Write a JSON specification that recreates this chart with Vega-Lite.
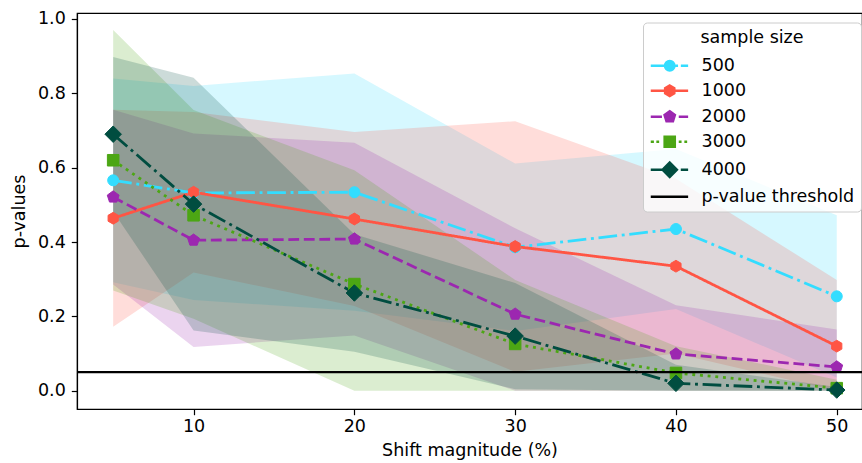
{
  "$schema": "https://vega.github.io/schema/vega-lite/v6.json",
  "width": 785,
  "height": 396,
  "autosize": "none",
  "padding": {"left": 77, "top": 13, "right": 0, "bottom": 54},
  "background": "white",
  "config": {
    "font": "DejaVu Sans",
    "view": {"stroke": "black", "strokeWidth": 1.2},
    "axis": {
      "grid": false,
      "domainColor": "black",
      "domainWidth": 1.2,
      "tickColor": "black",
      "tickWidth": 1.2,
      "tickSize": 5.7,
      "labelFont": "DejaVu Sans",
      "labelFontSize": 17.5,
      "labelColor": "black",
      "titleFont": "DejaVu Sans",
      "titleFontSize": 17.5,
      "titleFontWeight": "normal",
      "titleColor": "black"
    }
  },
  "datasets": {
    "series": [
      {"size": "500", "shift": 5, "p": 0.566, "lo": 0.292, "hi": 0.84},
      {"size": "500", "shift": 10, "p": 0.532, "lo": 0.244, "hi": 0.82},
      {"size": "500", "shift": 20, "p": 0.534, "lo": 0.215, "hi": 0.853},
      {"size": "500", "shift": 30, "p": 0.386, "lo": 0.161, "hi": 0.611},
      {"size": "500", "shift": 40, "p": 0.435, "lo": 0.22, "hi": 0.65},
      {"size": "500", "shift": 50, "p": 0.254, "lo": 0.036, "hi": 0.472},
      {"size": "1000", "shift": 5, "p": 0.464, "lo": 0.172, "hi": 0.756},
      {"size": "1000", "shift": 10, "p": 0.534, "lo": 0.318, "hi": 0.75},
      {"size": "1000", "shift": 20, "p": 0.462, "lo": 0.228, "hi": 0.696},
      {"size": "1000", "shift": 30, "p": 0.388, "lo": 0.051, "hi": 0.725},
      {"size": "1000", "shift": 40, "p": 0.335, "lo": 0.1, "hi": 0.57},
      {"size": "1000", "shift": 50, "p": 0.12, "lo": 0.0, "hi": 0.298},
      {"size": "2000", "shift": 5, "p": 0.521, "lo": 0.286, "hi": 0.756},
      {"size": "2000", "shift": 10, "p": 0.405, "lo": 0.118, "hi": 0.692},
      {"size": "2000", "shift": 20, "p": 0.408, "lo": 0.149, "hi": 0.667},
      {"size": "2000", "shift": 30, "p": 0.206, "lo": 0.0, "hi": 0.437},
      {"size": "2000", "shift": 40, "p": 0.099, "lo": 0.0, "hi": 0.23},
      {"size": "2000", "shift": 50, "p": 0.064, "lo": 0.0, "hi": 0.165},
      {"size": "3000", "shift": 5, "p": 0.62, "lo": 0.27, "hi": 0.97},
      {"size": "3000", "shift": 10, "p": 0.472, "lo": 0.194, "hi": 0.755},
      {"size": "3000", "shift": 20, "p": 0.287, "lo": 0.0, "hi": 0.593},
      {"size": "3000", "shift": 30, "p": 0.126, "lo": 0.0, "hi": 0.298},
      {"size": "3000", "shift": 40, "p": 0.048, "lo": 0.0, "hi": 0.12},
      {"size": "3000", "shift": 50, "p": 0.007, "lo": 0.0, "hi": 0.03},
      {"size": "4000", "shift": 5, "p": 0.69, "lo": 0.482, "hi": 0.898},
      {"size": "4000", "shift": 10, "p": 0.502, "lo": 0.162, "hi": 0.842},
      {"size": "4000", "shift": 20, "p": 0.263, "lo": 0.105, "hi": 0.421},
      {"size": "4000", "shift": 30, "p": 0.147, "lo": 0.004, "hi": 0.29},
      {"size": "4000", "shift": 40, "p": 0.02, "lo": 0.0, "hi": 0.07},
      {"size": "4000", "shift": 50, "p": 0.002, "lo": 0.0, "hi": 0.01}
    ],
    "threshold": [{"label": "p-value threshold", "p": 0.05}]
  },
  "data": {"name": "series"},
  "resolve": {"scale": {"shape": "independent", "fill": "independent", "stroke": "independent"}},
  "layer": [
    {
      "mark": {"type": "area", "fillOpacity": 0.2},
      "encoding": {
        "x": {
          "field": "shift", "type": "quantitative",
          "scale": {"domain": [2.75, 51.57], "nice": false, "zero": false},
          "axis": {"values": [10, 20, 30, 40, 50], "title": "Shift magnitude (%)", "labelPadding": 3, "titlePadding": 6}
        },
        "y": {
          "field": "lo", "type": "quantitative",
          "scale": {"domain": [-0.049, 1.016], "nice": false, "zero": false},
          "axis": {"values": [0, 0.2, 0.4, 0.6, 0.8, 1.0], "format": ".1f", "title": "p-values", "labelPadding": 6, "titlePadding": 9}
        },
        "y2": {"field": "hi"},
        "color": {
          "field": "size", "type": "nominal", "legend": null,
          "scale": {"domain": ["500", "1000", "2000", "3000", "4000"], "range": ["#33DDFF", "#FF5544", "#9C27B0", "#4CA614", "#004D40"]}
        }
      }
    },
    {
      "mark": {"type": "line", "strokeWidth": 2.8},
      "encoding": {
        "x": {"field": "shift", "type": "quantitative"},
        "y": {"field": "p", "type": "quantitative"},
        "color": {"field": "size", "type": "nominal", "legend": null},
        "strokeDash": {
          "field": "size", "type": "nominal", "legend": null,
          "scale": {"domain": ["500", "1000", "2000", "3000", "4000"], "range": [[18.7, 4.7, 2.9, 4.7], [1, 0], [10.8, 4.7], [2.9, 4.8], [18.7, 4.7, 2.9, 4.7]]}
        },
        "order": {"field": "shift"}
      }
    },
    {
      "mark": {"type": "point", "filled": true, "opacity": 1, "size": 121, "strokeWidth": 1},
      "encoding": {
        "x": {"field": "shift", "type": "quantitative"},
        "y": {"field": "p", "type": "quantitative"},
        "color": {"field": "size", "type": "nominal", "legend": null},
        "stroke": {"field": "size", "type": "nominal", "legend": null,
          "scale": {"domain": ["500", "1000", "2000", "3000", "4000"], "range": ["#33DDFF", "#FF5544", "#9C27B0", "#4CA614", "#004D40"]}},
        "shape": {
          "field": "size", "type": "nominal", "legend": null,
          "scale": {"domain": ["500", "1000", "2000", "3000", "4000"], "range": [
            "circle",
            "M0,-1.07L0.927,-0.535L0.927,0.535L0,1.07L-0.927,0.535L-0.927,-0.535Z",
            "M0,-1.13L1.075,-0.349L0.664,0.914L-0.664,0.914L-1.075,-0.349Z",
            "M-1.05,-1.05H1.05V1.05H-1.05Z",
            "M0,-1.5L1.5,0L0,1.5L-1.5,0Z"
          ]}
        }
      }
    },
    {
      "data": {"name": "threshold"},
      "mark": {"type": "rule", "color": "black", "strokeWidth": 2.2},
      "encoding": {"y": {"field": "p", "type": "quantitative"}}
    },
    {
      "transform": [{"filter": "datum.shift < 0"}],
      "mark": {"type": "point", "filled": true, "opacity": 1, "strokeWidth": 2.7},
      "encoding": {
        "x": {"field": "shift", "type": "quantitative"},
        "y": {"field": "p", "type": "quantitative"},
        "fill": {
          "field": "size", "type": "nominal",
          "scale": {"domain": ["500", "1000", "2000", "3000", "4000", "p-value threshold"], "range": ["#33DDFF", "#FF5544", "#9C27B0", "#4CA614", "#004D40", "black"]},
          "legend": {"title": "sample size", "orient": "none", "legendX": 566, "legendY": 9.5, "titleAnchor": "middle", "titleFontSize": 17.5, "titleFontWeight": "normal", "titleColor": "black", "titleFont": "DejaVu Sans", "titlePadding": 11, "labelFontSize": 17.5, "labelFont": "DejaVu Sans", "labelColor": "black", "labelLimit": 400, "labelOffset": 35, "symbolSize": 196, "symbolStrokeWidth": 2.7, "rowPadding": 4, "padding": 6, "fillColor": "rgba(255,255,255,0.8)", "strokeColor": "#cccccc", "cornerRadius": 4}
        },
        "stroke": {
          "field": "size", "type": "nominal",
          "scale": {"domain": ["500", "1000", "2000", "3000", "4000", "p-value threshold"], "range": ["#33DDFF", "#FF5544", "#9C27B0", "#4CA614", "#004D40", "black"]},
          "legend": {"title": "sample size", "orient": "none", "legendX": 566, "legendY": 9.5, "titleAnchor": "middle", "titleFontSize": 17.5, "titleFontWeight": "normal", "titleColor": "black", "titleFont": "DejaVu Sans", "titlePadding": 11, "labelFontSize": 17.5, "labelFont": "DejaVu Sans", "labelColor": "black", "labelLimit": 400, "labelOffset": 35, "symbolSize": 196, "symbolStrokeWidth": 2.7, "rowPadding": 4, "padding": 6, "fillColor": "rgba(255,255,255,0.8)", "strokeColor": "#cccccc", "cornerRadius": 4}
        },
        "shape": {
          "field": "size", "type": "nominal",
          "scale": {"domain": ["500", "1000", "2000", "3000", "4000", "p-value threshold"], "range": [
            "M-1,0H1.1M2.55,0H2.9M3.3,0H4.34M1.05,0A0.66,0.66,0,1,1,2.37,0A0.66,0.66,0,1,1,1.05,0Z",
            "M-1,0H4.34M1.71,-0.74L2.35,-0.37L2.35,0.37L1.71,0.74L1.07,0.37L1.07,-0.37Z",
            "M-1,0H0.6M3.0,0H4.34M1.71,-0.76L2.43,-0.235L2.16,0.615L1.26,0.615L0.99,-0.235Z",
            "M-1,0H-0.55M-0.2,0H0.2M3.0,0H3.4M3.8,0H4.2M1,-0.71H2.42V0.71H1Z",
            "M-1,0H0.6M3.29,0H4.34M1.71,-1.0L2.71,0L1.71,1.0L0.71,0Z",
            "M-1,0H4.34"
          ]},
          "legend": {"title": "sample size", "orient": "none", "legendX": 566, "legendY": 9.5, "titleAnchor": "middle", "titleFontSize": 17.5, "titleFontWeight": "normal", "titleColor": "black", "titleFont": "DejaVu Sans", "titlePadding": 11, "labelFontSize": 17.5, "labelFont": "DejaVu Sans", "labelColor": "black", "labelLimit": 400, "labelOffset": 35, "symbolSize": 196, "symbolStrokeWidth": 2.7, "rowPadding": 4, "padding": 6, "fillColor": "rgba(255,255,255,0.8)", "strokeColor": "#cccccc", "cornerRadius": 4}
        }
      }
    }
  ]
}
